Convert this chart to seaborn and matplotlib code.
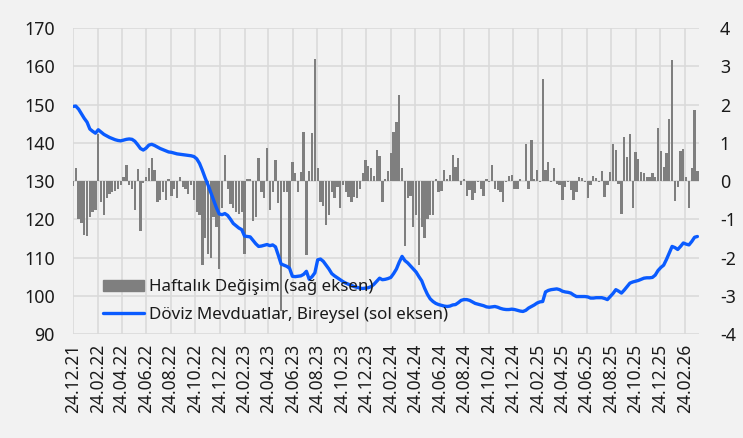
import matplotlib
matplotlib.use('Agg')
import matplotlib.pyplot as plt
import matplotlib.dates as mdates
from matplotlib.patches import Patch
from matplotlib.lines import Line2D
import pandas as pd
import seaborn as sns

# weekly dates (Friday), 24.12.2021 onwards
weeks = pd.date_range('2021-12-24', periods=223, freq='7D')

# Döviz Mevduatlar, Bireysel (left axis)
doviz = [
    149.5, 149.6, 148.8, 147.6, 146.4, 145.4, 143.6, 143.0, 142.5, 143.4,
    142.8, 142.2, 141.8, 141.4, 141.1, 140.8, 140.6, 140.5, 140.7, 140.9,
    141.0, 140.9, 140.4, 139.5, 138.5, 138.1, 138.6, 139.4, 139.6, 139.3,
    138.9, 138.5, 138.2, 137.9, 137.6, 137.5, 137.3, 137.1, 137.0, 136.9,
    136.8, 136.7, 136.6, 136.4, 135.8, 134.6, 132.8, 130.8, 129.0, 127.0,
    125.0, 123.0, 121.4, 121.2, 121.5, 121.0, 120.0, 118.9, 118.3, 117.7,
    117.3, 115.6, 115.5, 115.4, 114.5, 113.6, 112.9, 113.0, 113.2, 113.4,
    113.1, 113.3, 112.8, 110.6, 108.3, 108.0, 107.7, 107.2, 105.1, 105.0,
    105.1, 105.2, 105.6, 106.4, 104.3, 105.0, 106.0, 109.4, 109.6, 109.0,
    108.0, 107.0, 105.8, 105.2, 104.7, 104.2, 103.7, 103.3, 103.0, 102.7,
    102.4, 102.2, 102.0, 101.9, 102.0, 102.1, 102.4, 103.0, 103.8, 104.6,
    104.2, 104.3, 104.5, 104.8, 105.8, 107.0, 108.8, 110.3, 109.2, 108.6,
    107.8, 107.0, 106.2, 105.0, 103.9, 102.0, 100.4, 99.2, 98.5, 98.0,
    97.7, 97.5, 97.3, 97.2, 97.3, 97.6, 97.7, 98.2, 98.8, 99.0,
    99.0, 98.8, 98.4, 98.0, 97.8, 97.6, 97.4, 97.1, 97.0, 97.1,
    97.2, 97.0, 96.7, 96.5, 96.4, 96.4, 96.5, 96.4, 96.2, 96.0,
    95.9, 96.2, 96.8, 97.2, 97.6, 98.1, 98.4, 98.5, 101.0, 101.4,
    101.6, 101.7, 101.8, 101.6, 101.2, 101.0, 100.9, 100.7, 100.2, 99.8,
    99.8, 99.8, 99.8, 99.7, 99.4, 99.4, 99.5, 99.5, 99.5, 99.3,
    99.0, 99.8, 100.6, 101.6, 101.2, 100.7, 101.5, 102.4, 103.3, 103.6,
    103.8, 104.0, 104.3, 104.6, 104.7, 104.7, 104.8, 105.4, 106.6, 107.4,
    108.0, 109.5, 111.2, 112.9, 112.6, 112.1, 112.9, 113.8, 113.5, 113.3,
    114.2, 115.3, 115.5,
]

# Haftalık Değişim (right axis)
haftalik = [
    -0.12, 0.35, -1.0, -1.1, -1.4, -1.45, -0.95, -0.8, -0.75, 1.22,
    -0.55, -0.9, -0.45, -0.35, -0.3, -0.25, -0.2, -0.1, 0.1, 0.42,
    -0.1, -0.2, -0.75, 0.32, -1.3, -0.05, 0.1, 0.35, 0.6, 0.3,
    -0.55, -0.5, -0.3, -0.5, 0.05, -0.4, -0.2, -0.45, 0.1, -0.15,
    -0.2, -0.35, -0.1, -0.5,
    -0.8, -0.9, -2.2, -1.5, -1.9, -2.0, -0.95, -1.2, -2.3, -0.7,
    0.68, -0.2, -0.6, -0.7, -0.8, -0.85, -0.8, -1.9, 0.05, 0.05,
    -1.05, -0.95, 0.6, -0.3, -0.45, 0.87, -0.75, -0.3, 0.55, -0.58,
    -3.4, -0.3, -0.3, -2.28, 0.5, 0.2, -0.3, 0.24, 1.27, -1.93,
    0.25, 1.25, 3.18, 0.33,
    -0.55, -0.65, -1.15, -0.9, -0.3, -0.45, -0.15, -0.7, -0.1, -0.3,
    -0.42, -0.55, -0.42, -0.45, -0.2, 0.2, 0.55, 0.38, 0.35, 0.12,
    0.8, 0.65, -0.55, 0.05, 0.25, 0.72, 1.29, 1.55, 2.24, 0.33,
    -1.7, -0.45, -0.4, -1.2, -0.9, -2.2, -1.2, -1.5, -1.0, -0.9,
    -0.9, 0.05, -0.3, -0.25, 0.3,
    0.05, 0.16, 0.68, 0.37, 0.6, -0.1, 0.05, -0.4, -0.23, -0.5,
    -0.32, -0.02, -0.2, -0.4, 0.05, -0.03, 0.42, -0.2, -0.23, -0.28,
    -0.54, -0.02, 0.12, 0.17, -0.2, -0.2, 0.05, -0.01, 0.98, -0.2,
    1.07, 0.05, 0.29, -0.02, 2.66, 0.29, 0.5, -0.02, 0.33, -0.09,
    -0.1, -0.5, -0.15, -0.02,
    -0.23, -0.5, -0.28, 0.11, 0.07, -0.02, -0.45, -0.1, 0.14, 0.07,
    -0.02, 0.26, -0.43, -0.1, 0.24, 0.97, 0.81, -0.09, -0.86, 1.14,
    0.63, 1.24, -0.7, 0.77, 0.57, 0.24, 0.2, 0.11, 0.11, 0.2,
    0.11, 1.39, 0.78, 0.37, 0.72, 1.61, 3.16, -0.52, -0.15, 0.78,
    0.83, 0.11, -0.7, 0.33, 1.85, 0.26,
]

tick_dates = pd.date_range('2021-12-24', periods=26, freq=pd.DateOffset(months=2))
tick_labels = [d.strftime('%d.%m.%y') for d in tick_dates]

bar_label = 'Haftalık Değişim (sağ eksen)'
line_label = 'Döviz Mevduatlar, Bireysel (sol eksen)'

bg = '#F2F2F2'
grid_c = '#D9D9D9'
bar_c = '#7F7F7F'
line_c = '#0A5BFF'
text_c = '#1A1A1A'

sns.set_theme(style='white')
plt.rcParams['font.family'] = ['Noto Sans', 'DejaVu Sans']
plt.rcParams['axes.unicode_minus'] = False

df = pd.DataFrame({'tarih': mdates.date2num(weeks), 'doviz': doviz, 'haftalik': haftalik})
x0 = df['tarih'].iloc[0]

fig = plt.figure(figsize=(7.43, 4.38), dpi=100, facecolor=bg)
ax = fig.add_axes([0.0982, 0.2374, 0.8426, 0.6986])
ax.set_facecolor(bg)

# bars on the primary axes (ticks moved to the right), line on the twin
sns.barplot(data=df, x='tarih', y='haftalik', native_scale=True, color=bar_c,
            saturation=1, width=0.82, errorbar=None, linewidth=0, ax=ax)
ax2 = ax.twinx()
sns.lineplot(data=df, x='tarih', y='doviz', ax=ax2, color=line_c, linewidth=2.4, legend=False)

ax.set_xlim(x0, x0 + 1558)
ax.set_ylim(-4, 4)
ax2.set_ylim(90, 170)
ax.set_yticks(range(-4, 5))
ax.set_yticklabels([str(v) for v in range(-4, 5)])
ax2.set_yticks(range(90, 171, 10))
ax.yaxis.tick_right()
ax2.yaxis.tick_left()
ax.set_xticks(mdates.date2num(tick_dates))
ax.set_xticklabels(tick_labels, rotation=90)

ax.grid(True, color=grid_c, linewidth=1.1)
ax.set_axisbelow(True)
for a in (ax, ax2):
    for s in a.spines.values():
        s.set_visible(False)
    a.set_xlabel('')
    a.set_ylabel('')

ax.tick_params(axis='y', length=0, pad=15, labelsize=12.8, labelcolor=text_c)
ax2.tick_params(axis='y', length=0, pad=13, labelsize=12.8, labelcolor=text_c)
ax.tick_params(axis='x', length=4, color=grid_c, width=1.1, pad=3, labelsize=12.5, labelcolor=text_c)

handles = [Patch(color=bar_c), Line2D([], [], color=line_c, linewidth=2.4)]
ax2.legend(handles, [bar_label, line_label], loc='lower left', bbox_to_anchor=(0.048, 0.035),
           frameon=False, fontsize=12.2, handlelength=2.4, handletextpad=0.3,
           labelspacing=0.7, borderpad=0, borderaxespad=0, labelcolor=text_c)

fig.savefig('out.png', dpi=100, facecolor=bg)
